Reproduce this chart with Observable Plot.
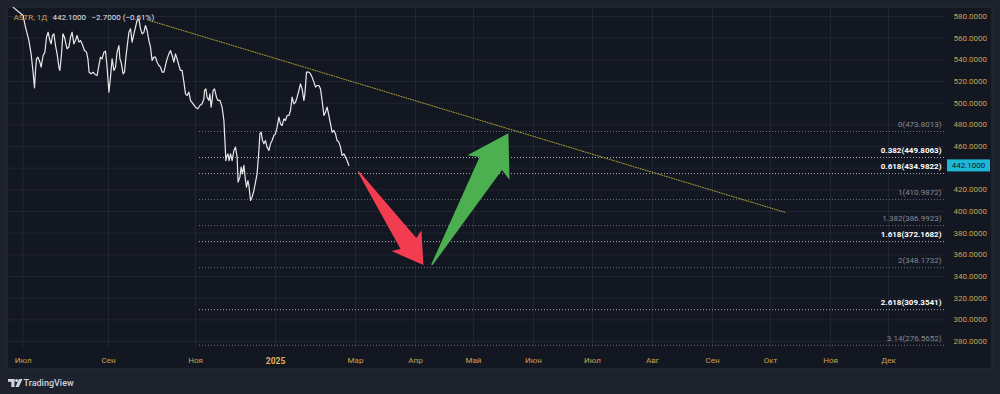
<!DOCTYPE html>
<html><head><meta charset="utf-8">
<script src="https://cdn.jsdelivr.net/npm/d3@7"></script>
<script src="https://cdn.jsdelivr.net/npm/@observablehq/plot@0.6"></script>
<style>
html,body{margin:0;padding:0;background:#1e222d;}
#chart{width:1000px;height:394px;}
svg{display:block;}
</style></head><body><div id="chart"></div>
<script>
// ---------------- data ----------------
const ticker = "ASTR, 1Д";
const lastClose = 442.1;
const change = -2.7;
const changePct = -0.61;

// session (bar) index and close price
const barIndex = [1.5,3.2,7.8,9,10.7,11.8,12.7,13.5,14,14.5,15.2,16.2,16.8,17.8,18.7,19.5,20.3,21.2,21.8,22.5,23.2,24,24.8,25.7,26.2,27,27.7,28.5,29.2,29.8,30.7,31.5,32.3,33.2,34,34.8,35.7,36.5,37.3,38.5,39.5,40.2,40.8,41.8,42.8,43.8,44.8,45.7,46.5,47.3,48.2,49,49.8,50.7,51.5,52.3,53.2,54,54.8,55.7,56.2,56.8,57.8,58.5,59.2,59.8,60.7,61.5,62.3,63.2,64,64.8,65.7,66.5,67.3,68.2,69,69.8,70.7,71.5,72.3,73.2,74,74.8,75.7,76.5,77.3,78.2,79,79.8,80.7,81.5,82.3,83.2,84,84.8,85.7,86.5,87.3,88.2,89,89.8,90.7,91.5,92.8,94,95.2,96.2,97.3,98.2,98.5,99.2,99.8,100.7,101.2,101.8,102.3,102.8,103.5,104.5,105.2,106.2,107.3,108.2,108.7,109.2,109.5,110.2,110.8,111.5,112.3,113.2,114,114.8,115.3,116.2,116.8,117.5,118.2,119,119.5,120.2,120.7,121.5,122.3,123.2,124,124.8,125.7,126.2,126.8,127.5,128.2,129,129.8,130.7,131.5,132.3,133.2,134,134.8,135.7,136.5,137.3,138.2,139,139.8,140.7,141.5,142.3,143.2,144,144.8,145.7,146.5,147.3,148.2,148.7,149.5,150.7,151.5,152.3,153.2,154,154.8,155.7,156.5,157.3,158.2,159,159.8,160.7,161.5,162.3,163.2,164,164.8,165.7,166.5,167.3,168.2,169,169.8,170.7];
const closePrice = [592,588,580.9,570.2,557.8,545.5,530.2,514.2,530.2,540.9,542.5,537.8,533.2,544,547.1,560.9,565.5,557.8,554.8,562.5,564,553.2,545.5,533.2,530.2,545.5,564,560.9,554.8,550.2,551.7,560.9,565.5,554.8,557.8,562.5,556.3,557.8,554.8,548.6,547.1,540.9,528.6,527.1,528.6,526.5,525.5,534.8,542.5,540.9,547.1,548,533.2,510.2,524,540.9,530.2,533.2,547.1,553.2,540.9,537.8,527.1,528.6,542.5,551.7,565.5,568.6,556.3,564,570.2,576.3,577.8,568.6,564,565.5,571.7,567.1,557.8,551.7,539.4,542.5,542.5,537.8,534.8,533.2,528.6,528.6,534.8,540.9,545.5,548.6,544,537.8,545.5,540.9,534.8,530.2,530.2,519.4,508.6,507.1,510.2,502.5,499.4,496.3,494.8,497.8,499.4,504,511.7,513.2,505.5,502.5,508.6,496.3,502.5,511.7,513.2,505.5,502.5,502.5,496.3,484,465.5,446.9,450,453.2,446.9,453.2,446.9,456.3,459.4,450.2,427.1,431.7,440.9,434.8,442.5,428.6,422.5,428.6,424,410.2,413.2,419.4,427.1,434.8,456.3,471.7,473.2,465.5,462.5,465.5,459.4,456.3,462.5,465.5,470.2,471.7,477.8,487.1,480.9,479.4,485.5,484,488.6,488.6,493.2,505.5,499.4,500.9,505.5,511.7,517.8,513.2,502.5,508.6,528.6,528.6,527.1,524,519.4,514.8,516.3,516.3,513.2,502.5,488.6,491.7,496.3,488.6,480.9,473.2,474.8,471.7,465.5,464,459.4,451.7,453.2,450.2,447.1,442.5];

// time axis
const monthLabels = ["Июл","Сен","Ноя","2025","Мар","Апр","Май","Июн","Июл","Авг","Сен","Окт","Ноя","Дек"];
const monthBars   = [7.8,50.5,94,134,174,204,233,263,292.5,322.5,352.5,381.5,411.5,440.5];
const priceTicks  = [280,300,320,340,360,380,400,420,440,460,480,500,520,540,560,580];

// Fibonacci extension levels
const fibRatios = ["0","0.382","0.618","1","1.382","1.618","2","2.618","3.14"];
const fibPrices = [473.8013,449.8063,434.9822,410.9872,386.9923,372.1682,348.1732,309.3541,276.5652];
const fibKey    = [false,true,true,false,false,true,false,true,false];
const fibStartBar = 96;

// trend line (bar, price)
const trendBars   = [69.85, 389];
const trendPrices = [577, 399.1];

// arrows (bar, price)
const arrowDownFrom = [175.7, 436.3], arrowDownTo = [208.2, 350.2];
const arrowUpFrom   = [212.4, 350.2], arrowUpTo   = [250.7, 471.7];

// ---------------- build ----------------
if (barIndex.length !== closePrice.length) throw new Error("length mismatch " + barIndex.length + " vs " + closePrice.length);

const rows = barIndex.map((b, i) => ({bar: b, close: closePrice[i]}));
const fibs = fibRatios.map((r, i) => ({ratio: r, price: fibPrices[i], key: fibKey[i], label: `${r}(${fibPrices[i].toFixed(4)})`}));
const trend = trendBars.map((b, i) => ({bar: b, price: trendPrices[i]}));
const labelByBar = new Map(monthBars.map((b, i) => [b, monthLabels[i]]));
const boldBars = monthBars.filter((b, i) => monthLabels[i] === "2025");
const normBars = monthBars.filter((b, i) => monthLabels[i] !== "2025");
// the last-price badge hides the scale label it covers
const labelTicks = priceTicks.filter(t => Math.abs(t - lastClose) > 6);

const GOLD = "#c9a24e";
const GRID = "#212531";
const fmtSigned = (v, d) => (v < 0 ? "\u2212" : "") + Math.abs(v).toFixed(d);

const W = 1000, H = 394;
const plot = Plot.plot({
  width: W, height: H,
  marginLeft: 7, marginRight: 55, marginTop: 7, marginBottom: 46,
  style: {fontFamily: "Roboto, 'Noto Sans', sans-serif", fontSize: "8px", background: "transparent", color: GOLD, overflow: "visible"},
  x: {domain: [0, 469], axis: null, label: null},
  y: {domain: [273.54, 588.31], axis: null, label: null},
  marks: [
    Plot.gridY(priceTicks, {stroke: GRID, strokeOpacity: 1}),
    Plot.gridX(monthBars, {stroke: GRID, strokeOpacity: 1}),
    Plot.axisY(labelTicks, {anchor: "right", label: null, tickSize: 0, tickPadding: 8, textAnchor: "start", tickFormat: d => d.toFixed(4), fill: GOLD, fontSize: 8}),
    Plot.axisX(normBars, {anchor: "bottom", label: null, tickSize: 0, tickPadding: 9, tickFormat: d => labelByBar.get(d), fill: GOLD, fontSize: 8}),
    Plot.axisX(boldBars, {anchor: "bottom", label: null, tickSize: 0, tickPadding: 9, tickFormat: d => labelByBar.get(d), fill: "#e0b65a", fontSize: 8.5, fontWeight: "bold"}),
    // fib levels
    Plot.ruleY(fibs.filter(d => !d.key), {y: "price", x1: fibStartBar, x2: 469, stroke: "#6e717b", strokeDasharray: "1,2", strokeWidth: 1}),
    Plot.ruleY(fibs.filter(d => d.key), {y: "price", x1: fibStartBar, x2: 469, stroke: "#a9acb5", strokeDasharray: "1,2", strokeWidth: 1}),
    Plot.text(fibs.filter(d => !d.key), {y: "price", frameAnchor: "right", text: "label", textAnchor: "end", dx: -4, dy: -7, fill: "#868993", fontSize: 8}),
    Plot.text(fibs.filter(d => d.key), {y: "price", frameAnchor: "right", text: "label", textAnchor: "end", dx: -4, dy: -7, fill: "#ffffff", fontSize: 8, fontWeight: "bold"}),
    // trend line
    Plot.line(trend, {x: "bar", y: "price", stroke: "#b1a232", strokeWidth: 1, strokeDasharray: "1,1.5"}),
    // price line
    Plot.line(rows, {x: "bar", y: "close", stroke: "#e9e9ea", strokeWidth: 1.2, clip: true}),
    // header
    Plot.text([ticker], {frameAnchor: "top-left", dx: 6, dy: 10, lineAnchor: "middle", textAnchor: "start", fill: GOLD, fontSize: 8}),
    Plot.text([lastClose.toFixed(4)], {frameAnchor: "top-left", dx: 45, dy: 10, lineAnchor: "middle", textAnchor: "start", fill: "#e0e3eb", fontSize: 8}),
    Plot.text([`${fmtSigned(change, 4)} (${fmtSigned(changePct, 2)}%)`], {frameAnchor: "top-left", dx: 84, dy: 10, lineAnchor: "middle", textAnchor: "start", fill: "#e0e3eb", fontSize: 8}),
    // branding
    Plot.text(["TradingView"], {frameAnchor: "bottom-left", dx: 16, dy: 35, lineAnchor: "middle", textAnchor: "start", fill: "#d1d4dc", fontSize: 9, fontWeight: 500})
  ]
});

const svg = d3.select(plot);
// panel background (chrome)
svg.insert("rect", ":first-child").attr("x", 7).attr("y", 7).attr("width", 985).attr("height", 362).attr("fill", "#131722").attr("stroke", "#2a2e39").attr("stroke-width", 1);
svg.insert("rect", ":first-child").attr("x", 0).attr("y", 0).attr("width", W).attr("height", H).attr("fill", "#1e222d");

const sx = plot.scale("x"), sy = plot.scale("y");
const px = ([b, p]) => [sx.apply(b), sy.apply(p)];

function fatArrow(from, to, color) {
  const [x0, y0] = px(from), [x1, y1] = px(to);
  const dx = x1 - x0, dy = y1 - y0, L = Math.hypot(dx, dy);
  const ux = dx / L, uy = dy / L, nx = -uy, ny = ux;
  const pt = (a, b) => [x1 - ux * a + nx * b, y1 - uy * a + ny * b];
  const pts = [
    [x0 + nx * 0.7, y0 + ny * 0.7],
    pt(0.23 * L, 0.085 * L),
    pt(0.26 * L, 0.16 * L),
    [x1, y1],
    pt(0.26 * L, -0.16 * L),
    pt(0.23 * L, -0.085 * L),
    [x0 - nx * 0.7, y0 - ny * 0.7]
  ];
  svg.append("polygon").attr("points", pts.map(p => p.join(",")).join(" ")).attr("fill", color);
}
fatArrow(arrowDownFrom, arrowDownTo, "#f23c50");
fatArrow(arrowUpFrom, arrowUpTo, "#4caf50");

// last price badge on the price scale
const yLast = sy.apply(lastClose);
const xRight = sx.apply(469);
svg.append("rect").attr("x", xRight + 2).attr("y", yLast - 6).attr("width", 43).attr("height", 12).attr("fill", "#1cb8d6");
svg.append("text").attr("x", xRight + 23.5).attr("y", yLast).attr("dy", "0.35em").attr("text-anchor", "middle")
  .attr("fill", "#131722").attr("font-size", 8).attr("font-family", "Roboto, sans-serif").text(lastClose.toFixed(4));

// TradingView logo glyph
const g = svg.append("g").attr("transform", `translate(8,379)`).attr("fill", "#d1d4dc");
g.append("rect").attr("x", 0).attr("y", 0).attr("width", 6.5).attr("height", 2.8);
g.append("rect").attr("x", 3.3).attr("y", 0).attr("width", 3.2).attr("height", 8);
g.append("circle").attr("cx", 8.6).attr("cy", 1.5).attr("r", 1.5);
g.append("polygon").attr("points", "11,0 14.5,0 10.8,8 7.4,8");

document.getElementById("chart").appendChild(plot);
</script></body></html>
